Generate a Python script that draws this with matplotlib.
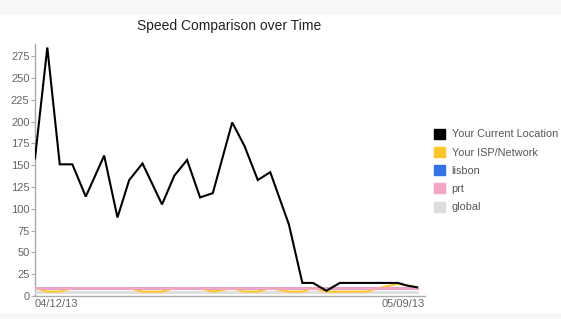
import numpy as np
import pandas as pd
import matplotlib.pyplot as plt
from matplotlib.patches import Rectangle

# days since 04/12/13 for each measurement
days = [0.0, 0.87, 1.75, 2.64, 3.59, 4.89, 5.83, 6.66, 7.60, 8.98,
        9.85, 10.75, 11.67, 12.57, 13.94, 14.81, 15.75, 16.63, 17.95, 18.90,
        19.65, 20.60, 21.55, 22.47, 23.40, 24.30, 25.65, 26.30, 27.00]

current = [158, 285, 151, 151, 114, 161, 90, 133, 152, 105,
           138, 156, 113, 118, 199, 172, 133, 142, 82, 15,
           15, 6, 15, 15, 15, 15, 15, 12, 10]
isp = [9, 5, 5, 9, 9, 9, 9, 9, 5, 5,
       9, 9, 9, 5, 9, 5, 5, 9, 5, 5,
       9, 5, 5, 5, 5, 9, 14, 12, 10]
lisbon = [9.3] * len(days)
prt = [9.3] * len(days)
glob = [4.3] * len(days)

labels = ['Your Current Location', 'Your ISP/Network', 'lisbon', 'prt', 'global']
colors = ['#000000', '#ffc629', '#3474e8', '#f4a6c6', '#dddddd']
start_label, end_label = '04/12/13', '05/09/13'

plt.rcParams['font.family'] = ['Liberation Sans', 'DejaVu Sans']

fig = plt.figure(figsize=(5.61, 3.19), dpi=100)
fig.patches.append(Rectangle((0, 1 - 14 / 319), 1, 14 / 319, transform=fig.transFigure,
                             color='#f7f7f7', zorder=0))
fig.patches.append(Rectangle((0, 0), 1, 6 / 319, transform=fig.transFigure,
                             color='#f7f7f7', zorder=0))
ax = fig.add_axes([35 / 561, 23 / 319, 390 / 561, 252 / 319])

t = pd.Timestamp('2013-04-12') + pd.to_timedelta(days, unit='D')
series = [current, isp, lisbon, prt, glob]
widths = [1.5, 1.5, 2.0, 2.0, 2.0]
order = [4, 2, 1, 3, 0]
for z, i in enumerate(order):
    ax.plot(t, series[i], color=colors[i], lw=widths[i],
            solid_joinstyle='miter', zorder=3 + z)

x0 = t[0]
x1 = t[0] + pd.Timedelta(days=27.57)
ax.set_xlim(x0, x1)
ax.set_ylim(0, 289)
ax.set_yticks(np.arange(0, 276, 25))
ax.set_xticks([x0, x1])
ax.set_xticklabels([start_label, end_label])
xt = ax.get_xticklabels()
xt[0].set_ha('left')
xt[1].set_ha('right')

for s in ['top', 'right']:
    ax.spines[s].set_visible(False)
for s in ['left', 'bottom']:
    ax.spines[s].set_color('#aaaaaa')
    ax.spines[s].set_linewidth(1)
ax.tick_params(axis='y', colors='#aaaaaa', labelcolor='#666666', labelsize=8,
               length=3, pad=1)
ax.tick_params(axis='x', length=0, labelcolor='#666666', labelsize=8, pad=2)

fig.text(229 / 561, 1 - 26 / 319, 'Speed Comparison over Time', ha='center',
         va='center', fontsize=10, color='#222222')

handles = [plt.Rectangle((0, 0), 1, 1, color=c) for c in colors]
fig.legend(handles, labels, loc='upper left', bbox_to_anchor=(424 / 561, 1 - 119 / 319),
           frameon=False, fontsize=7.8, labelcolor='#555555', handlelength=1.03,
           handleheight=1.03, handletextpad=0.62, labelspacing=0.7)

fig.savefig('out.png', dpi=100)
